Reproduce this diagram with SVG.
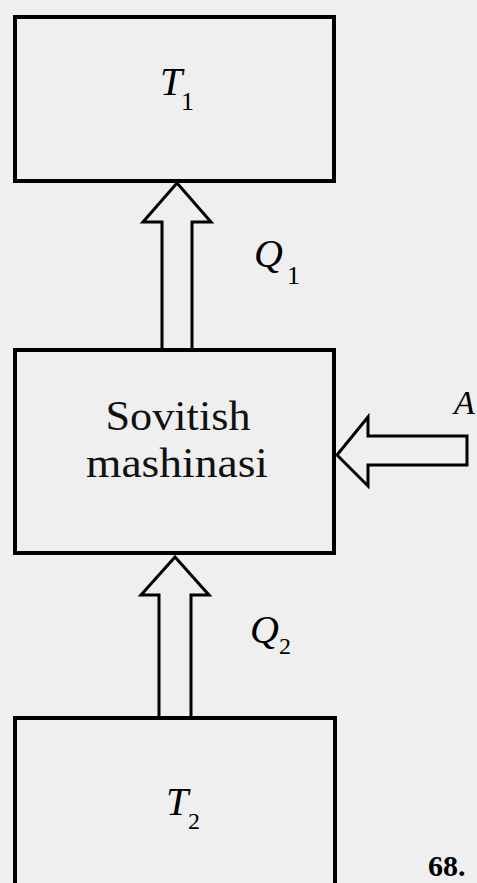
<svg xmlns="http://www.w3.org/2000/svg" width="477" height="883" viewBox="0 0 477 883">
<style>
.box{fill:none;stroke:#000;stroke-width:4}
.arr{fill:none;stroke:#000;stroke-width:3;stroke-linejoin:miter}
.it{font-family:"Liberation Serif","Times New Roman",serif;font-style:italic;fill:#000}
.sub{font-family:"Liberation Serif","Times New Roman",serif;fill:#000}
.lbl{font-family:"Liberation Serif","Times New Roman",serif;fill:#111;font-size:42px;text-anchor:middle}
</style>
<rect width="477" height="883" fill="#efefef"/>
<g id="T1">
<rect class="box" x="15" y="17" width="319" height="164"/>
<text class="it" x="160" y="95" font-size="40">T</text>
<text class="sub" x="181" y="110" font-size="26">1</text>
</g>
<g id="machine">
<rect class="box" x="15" y="350" width="319" height="203"/>
<text class="lbl" x="178" y="430" textLength="145" lengthAdjust="spacingAndGlyphs">Sovitish</text>
<text class="lbl" x="177" y="477" textLength="182" lengthAdjust="spacingAndGlyphs">mashinasi</text>
</g>
<g id="T2">
<path class="box" d="M15,885 V718 H335 V885"/>
<text class="it" x="166" y="815" font-size="40">T</text>
<text class="sub" x="188" y="829" font-size="24">2</text>
</g>
<g id="connectors">
<polyline class="arr" points="162,350 162,222 143,222 177,183 211,222 192,222 192,350"/>
<polyline class="arr" points="159,718 159,595 141,595 175,557 209,595 191,595 191,718"/>
<polygon class="arr" points="337,455 368,417 368,436 467,436 467,465 368,465 368,486"/>
</g>
<g id="labels">
<text class="it" x="254" y="267" font-size="40">Q</text>
<text class="sub" x="287" y="284" font-size="26">1</text>
<text class="it" x="250" y="643" font-size="40">Q</text>
<text class="sub" x="279" y="654" font-size="24">2</text>
<text class="it" x="454" y="414" font-size="34">A</text>
<text class="sub" x="428" y="876" font-size="30" font-weight="bold">68.</text>
</g>
</svg>
